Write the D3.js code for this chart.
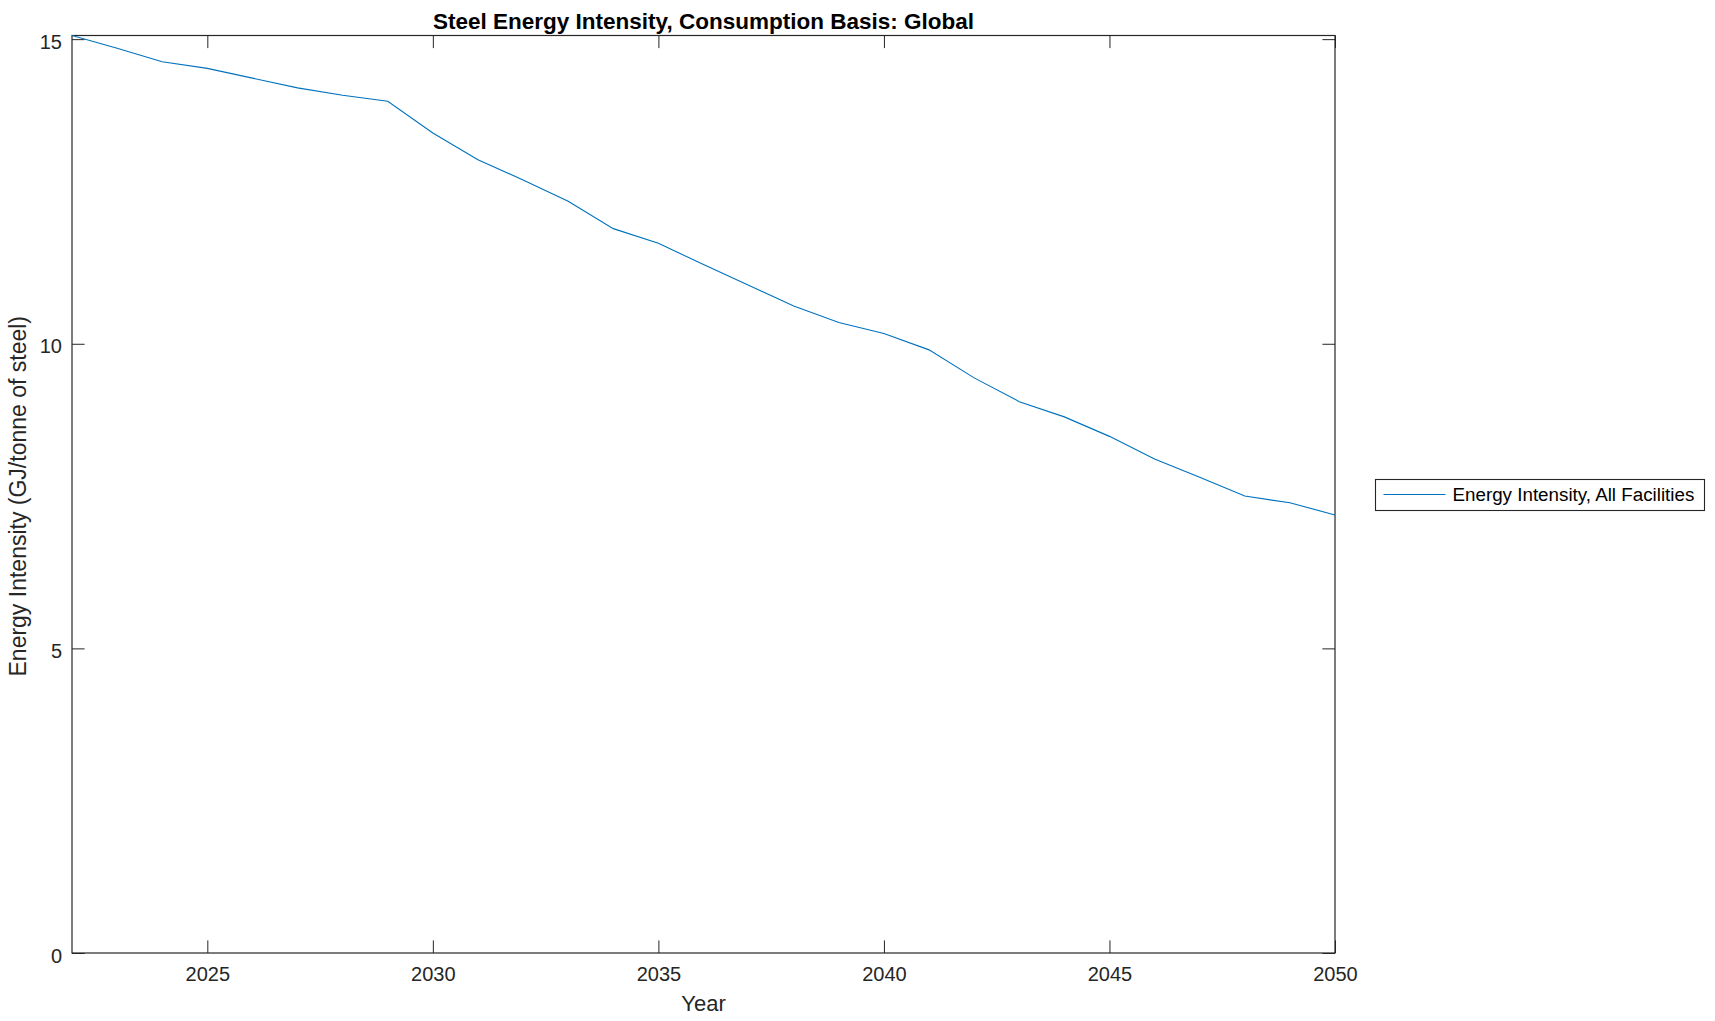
<!DOCTYPE html>
<meta charset="utf-8">
<head>
	<title>Steel Energy Intensity</title>
	<style>
		body { margin: 0; background: #FFFFFF; }
		svg { display: block; font-family: "Liberation Sans", Arial, Helvetica, sans-serif; }
		.axis text { fill: #262626; font-size: 20px; }
		.axis line { stroke: #262626; }
		.lbl { fill: #262626; font-size: 22px; }
	</style>
	<script src="https://d3js.org/d3.v7.min.js"></script>
</head>
<body>
	<div id="graph"></div>
	<script>
		const years = [2022, 2023, 2024, 2025, 2026, 2027, 2028, 2029, 2030, 2031, 2032, 2033, 2034, 2035, 2036,
			2037, 2038, 2039, 2040, 2041, 2042, 2043, 2044, 2045, 2046, 2047, 2048, 2049, 2050];
		const intensity = [15.06, 14.85, 14.63, 14.52, 14.36, 14.20, 14.08, 13.98, 13.46, 13.02, 12.69, 12.34, 11.89, 11.65, 11.30,
			10.96, 10.62, 10.35, 10.17, 9.90, 9.44, 9.05, 8.80, 8.48, 8.11, 7.81, 7.50, 7.39, 7.19];
		const xTicks = [2025, 2030, 2035, 2040, 2045, 2050];
		const yTicks = [0, 5, 10, 15];
		const seriesName = 'Energy Intensity, All Facilities';
		const chartTitle = 'Steel Energy Intensity, Consumption Basis: Global';

		const W = 1715, H = 1021;
		const L = 72, R = 1335, T = 35.5, B = 953;
		const TICK = 12.6;

		const SVG = d3.select('#graph').append('svg').attr('width', W).attr('height', H);

		const x = d3.scaleLinear().domain([years[0], years[years.length - 1]]).range([L, R]);
		const y = d3.scaleLinear().domain([0, d3.max(intensity)]).range([B, T]);

		// ticks point inwards on all four sides, labels only bottom/left
		SVG.append('g').attr('class', 'axis').attr('transform', `translate(0,${B})`)
			.call(d3.axisBottom(x).tickValues(xTicks).tickFormat(d3.format('d')).tickSizeInner(-TICK).tickSizeOuter(0).tickPadding(14))
			.call(g => g.select('.domain').remove());
		SVG.append('g').attr('class', 'axis').attr('transform', `translate(0,${T})`)
			.call(d3.axisTop(x).tickValues(xTicks).tickFormat('').tickSizeInner(-TICK).tickSizeOuter(0))
			.call(g => g.select('.domain').remove());
		SVG.append('g').attr('class', 'axis').attr('transform', `translate(${L},0)`)
			.call(d3.axisLeft(y).tickValues(yTicks).tickSizeInner(-TICK).tickSizeOuter(0).tickPadding(10))
			.call(g => g.select('.domain').remove())
			.call(g => g.selectAll('text').attr('dy', '0.45em'));
		SVG.append('g').attr('class', 'axis').attr('transform', `translate(${R},0)`)
			.call(d3.axisRight(y).tickValues(yTicks).tickFormat('').tickSizeInner(-TICK).tickSizeOuter(0))
			.call(g => g.select('.domain').remove());

		SVG.append('rect').attr('x', L).attr('y', T).attr('width', R - L).attr('height', B - T)
			.attr('fill', 'none').attr('stroke', '#262626').attr('stroke-width', 1.2);

		SVG.append('path').datum(years.map((d, i) => [d, intensity[i]]))
			.attr('fill', 'none').attr('stroke', '#0072BD').attr('stroke-width', 1.1)
			.attr('d', d3.line().x(d => x(d[0])).y(d => y(d[1])));

		SVG.append('text').attr('x', (L + R) / 2).attr('y', 28.5).attr('text-anchor', 'middle')
			.style('font-size', '22.5px').style('font-weight', 'bold').attr('fill', '#000').text(chartTitle);
		SVG.append('text').attr('class', 'lbl').attr('x', (L + R) / 2).attr('y', 1010.5).attr('text-anchor', 'middle').text('Year');
		SVG.append('text').attr('class', 'lbl').attr('text-anchor', 'middle').style('font-size', '23px')
			.attr('transform', `translate(26,${(T + B) / 2 + 2}) rotate(-90)`).text('Energy Intensity (GJ/tonne of steel)');

		//legend, east outside
		const leg = SVG.append('g').attr('transform', 'translate(1375.5,479.5)');
		leg.append('rect').attr('width', 329).attr('height', 31).attr('fill', '#FFF').attr('stroke', '#262626').attr('stroke-width', 1.1);
		leg.append('line').attr('x1', 8).attr('x2', 70).attr('y1', 15).attr('y2', 15).attr('stroke', '#0072BD').attr('stroke-width', 1.1);
		leg.append('text').attr('x', 77).attr('y', 21.5).style('font-size', '18.8px').attr('fill', '#000').text(seriesName);
	</script>
</body>
